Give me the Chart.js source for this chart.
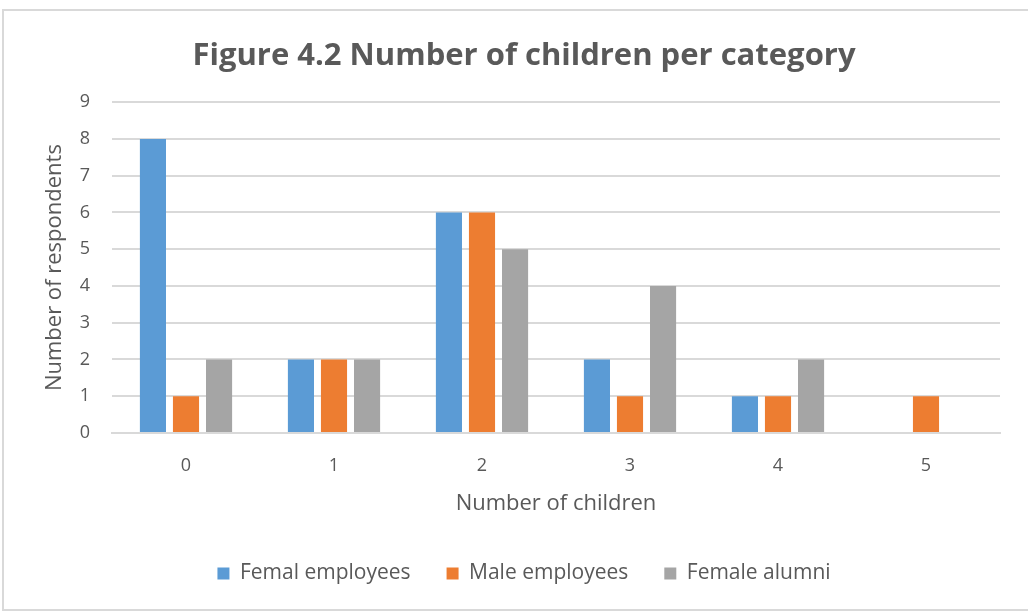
<!DOCTYPE html>
<html>
<head>
<meta charset="utf-8">
<script src="https://cdn.jsdelivr.net/npm/chart.js@4/dist/chart.umd.min.js"></script>
<style>
  body { margin: 0; background: #fff; }
  #frame { position: absolute; left: 2px; top: 9px; width: 1040px; height: 598px; border: 2px solid #d9d9d9; }
  #grafico { position: absolute; left: 0; top: 0; }
</style>
</head>
<body>
<div id="frame"></div>
<canvas id="grafico" width="1028" height="612"></canvas>
<script>
const categorias = ["0", "1", "2", "3", "4", "5"];
const femalEmployees = [8, 2, 6, 2, 1, 0];
const maleEmployees = [1, 2, 6, 1, 1, 1];
const femaleAlumni = [2, 2, 5, 4, 2, 0];

const cinza = "#595959";
const fonte = "'Open Sans', sans-serif";

const chart = new Chart(document.getElementById("grafico"), {
  type: "bar",
  data: {
    labels: categorias,
    datasets: [
      { label: "Femal employees", data: femalEmployees, backgroundColor: "#5b9bd5" },
      { label: "Male employees", data: maleEmployees, backgroundColor: "#ed7d31" },
      { label: "Female alumni", data: femaleAlumni, backgroundColor: "#a5a5a5" }
    ]
  },
  options: {
    responsive: false,
    animation: false,
    layout: { padding: { left: 48, right: 28, top: 0, bottom: 18 } },
    datasets: { bar: { categoryPercentage: 0.67, barPercentage: 0.79 } },
    plugins: {
      title: {
        display: true,
        text: "Figure 4.2 Number of children per category",
        color: cinza,
        font: { family: fonte, size: 31, weight: "bold" },
        padding: { top: 38, bottom: 27 }
      },
      legend: {
        position: "bottom",
        labels: {
          color: cinza,
          font: { family: fonte, size: 21 },
          boxWidth: 12,
          boxHeight: 12,
          padding: 36
        }
      },
      tooltip: { enabled: false }
    },
    scales: {
      x: {
        grid: { display: false, drawTicks: false },
        border: { display: true, color: "#d9d9d9", width: 2 },
        ticks: { color: cinza, font: { family: fonte, size: 18 }, padding: 22 },
        title: {
          display: true,
          text: "Number of children",
          color: cinza,
          font: { family: fonte, size: 22 },
          padding: { top: 3, bottom: 10 }
        },
        afterFit: s => { s.height = 94; }
      },
      y: {
        min: 0,
        max: 9,
        ticks: { stepSize: 1, color: cinza, font: { family: fonte, size: 18 }, padding: 22 },
        grid: { color: "#d9d9d9", lineWidth: 2, drawTicks: false },
        border: { display: false },
        title: {
          display: true,
          text: "Number of respondents",
          color: cinza,
          font: { family: fonte, size: 22 },
          padding: { top: -6, bottom: 0 }
        },
        afterFit: s => { s.width = 64; }
      }
    }
  }
});
</script>
</body>
</html>
